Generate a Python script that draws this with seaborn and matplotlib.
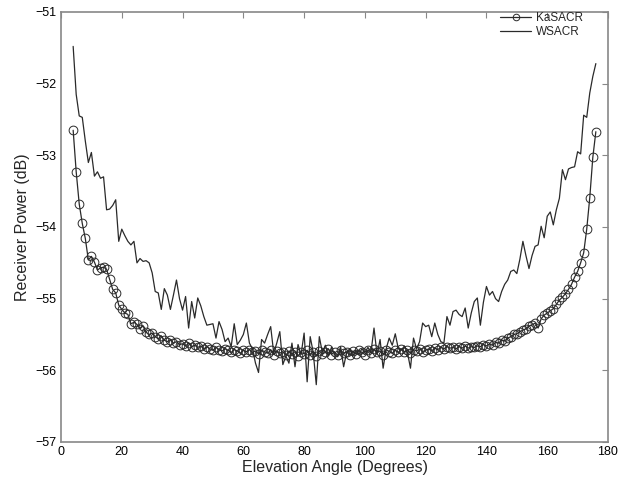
import numpy as np
import pandas as pd
import matplotlib
matplotlib.use("Agg")
import matplotlib.pyplot as plt
import seaborn as sns

sns.set_theme(style="white")
plt.rcParams['font.family'] = ['Liberation Sans', 'DejaVu Sans']

angles = list(range(4, 177))

kasacr = [
    -52.65, -53.23, -53.68, -53.95, -54.16, -54.46, -54.41, -54.49, -54.60, -54.57,  # 4-13
    -54.56, -54.59, -54.73, -54.87, -54.92, -55.09, -55.15, -55.20, -55.22, -55.35,  # 14-23
    -55.33, -55.36, -55.42, -55.38, -55.47, -55.50, -55.48, -55.53, -55.56, -55.52,  # 24-33
    -55.58, -55.60, -55.57, -55.62, -55.60, -55.64, -55.63, -55.66, -55.62, -55.67,  # 34-43
    -55.65, -55.68, -55.66, -55.70, -55.67, -55.70, -55.72, -55.68, -55.71, -55.73,  # 44-53
    -55.70, -55.72, -55.75, -55.71, -55.73, -55.76, -55.72, -55.74, -55.71, -55.75,  # 54-63
    -55.73, -55.77, -55.72, -55.74, -55.76, -55.72, -55.78, -55.73, -55.76, -55.74,  # 64-73
    -55.79, -55.73, -55.77, -55.74, -55.80, -55.75, -55.77, -55.72, -55.79, -55.74,  # 74-83
    -55.80, -55.73, -55.77, -55.75, -55.70, -55.78, -55.74, -55.79, -55.72, -55.76,  # 84-93
    -55.74, -55.79, -55.73, -55.77, -55.72, -55.75, -55.78, -55.72, -55.76, -55.70,  # 94-103
    -55.75, -55.73, -55.78, -55.71, -55.74, -55.76, -55.72, -55.75, -55.70, -55.74,  # 104-113
    -55.72, -55.76, -55.71, -55.73, -55.70, -55.74, -55.72, -55.70, -55.73, -55.69,  # 114-123
    -55.71, -55.68, -55.70, -55.67, -55.69, -55.68, -55.70, -55.67, -55.69, -55.66,  # 124-133
    -55.69, -55.67, -55.68, -55.66, -55.67, -55.64, -55.66, -55.63, -55.65, -55.61,  # 134-143
    -55.62, -55.58, -55.59, -55.55, -55.53, -55.50, -55.49, -55.46, -55.44, -55.42,  # 144-153
    -55.38, -55.37, -55.34, -55.41, -55.28, -55.23, -55.20, -55.17, -55.14, -55.08,  # 154-163
    -55.02, -54.98, -54.93, -54.87, -54.80, -54.70, -54.62, -54.50, -54.36, -54.03,  # 164-173
    -53.59, -53.03, -52.67,                                                          # 174-176
]

wsacr = [
    -51.48, -52.15, -52.45, -52.47, -52.80, -53.10, -52.96, -53.29, -53.23, -53.32,  # 4-13
    -53.30, -53.76, -53.75, -53.70, -53.62, -54.20, -54.03, -54.12, -54.20, -54.25,  # 14-23
    -54.20, -54.50, -54.44, -54.48, -54.47, -54.50, -54.64, -54.90, -54.92, -55.15,  # 24-33
    -54.86, -54.95, -55.15, -54.95, -54.74, -55.00, -55.16, -54.97, -55.41, -55.04,  # 34-43
    -55.27, -54.99, -55.10, -55.25, -55.37, -55.36, -55.35, -55.55, -55.32, -55.43,  # 44-53
    -55.60, -55.55, -55.67, -55.35, -55.64, -55.58, -55.50, -55.34, -55.62, -55.70,  # 54-63
    -55.90, -56.03, -55.57, -55.62, -55.50, -55.39, -55.76, -55.62, -55.46, -55.92,  # 64-73
    -55.80, -55.90, -55.62, -55.95, -55.64, -55.78, -55.48, -56.16, -55.53, -55.75,  # 74-83
    -56.20, -55.53, -55.75, -55.65, -55.80, -55.68, -55.78, -55.81, -55.67, -55.95,  # 84-93
    -55.75, -55.70, -55.80, -55.72, -55.78, -55.70, -55.75, -55.68, -55.75, -55.41,  # 94-103
    -55.78, -55.57, -55.97, -55.70, -55.55, -55.65, -55.49, -55.70, -55.72, -55.66,  # 104-113
    -55.75, -55.97, -55.55, -55.70, -55.60, -55.34, -55.39, -55.37, -55.53, -55.34,  # 114-123
    -55.50, -55.60, -55.62, -55.25, -55.37, -55.18, -55.16, -55.22, -55.25, -55.13,  # 124-133
    -55.41, -55.20, -55.04, -54.99, -55.37, -55.05, -54.83, -54.95, -54.90, -55.00,  # 134-143
    -55.04, -54.90, -54.80, -54.74, -54.62, -54.60, -54.65, -54.45, -54.20, -54.40,  # 144-153
    -54.58, -54.40, -54.27, -54.25, -53.99, -54.15, -53.85, -53.79, -53.97, -53.76,  # 154-163
    -53.60, -53.20, -53.34, -53.19, -53.17, -53.16, -52.95, -52.98, -52.44, -52.47,  # 164-173
    -52.13, -51.90, -51.72,                                                          # 174-176
]

x_ticks = [0, 20, 40, 60, 80, 100, 120, 140, 160, 180]
y_ticks = [-57, -56, -55, -54, -53, -52, -51]

df = pd.DataFrame({"angle": angles, "KaSACR": kasacr, "WSACR": wsacr})

fig = plt.figure(figsize=(6.28, 4.82), dpi=100)
ax = fig.add_axes([61 / 628, 1 - 442 / 482, (608 - 61) / 628, (442 - 12) / 482])

line_color = "#2a2a2a"
sns.lineplot(data=df, x="angle", y="KaSACR", ax=ax, color=line_color, lw=0.9,
             marker="o", markersize=6.3, markerfacecolor="none",
             markeredgecolor=line_color, markeredgewidth=0.7, label="KaSACR")
sns.lineplot(data=df, x="angle", y="WSACR", ax=ax, color=line_color, lw=0.9,
             label="WSACR")

ax.set_xlim(0, 180)
ax.set_ylim(-57, -51)
ax.set_xticks(x_ticks)
ax.set_yticks(y_ticks)
ax.tick_params(direction="in", length=4, width=0.8, color="#888888",
               top=True, right=True, labelsize=9, labelcolor="black", pad=3)
for s in ax.spines.values():
    s.set_color("#888888")
    s.set_linewidth(1.2)
    s.set_visible(True)

ax.set_xlabel("Elevation Angle (Degrees)", fontsize=11.5, labelpad=1)
ax.set_ylabel("Receiver Power (dB)", fontsize=11.5, labelpad=4)

leg = ax.legend(loc="upper right", bbox_to_anchor=(0.969, 1.019), frameon=False,
                fontsize=8.5, handlelength=2.6, borderaxespad=0.3,
                labelspacing=0.15, handletextpad=0.4, markerscale=0.75)

fig.savefig("out.png", dpi=100, facecolor="white")
